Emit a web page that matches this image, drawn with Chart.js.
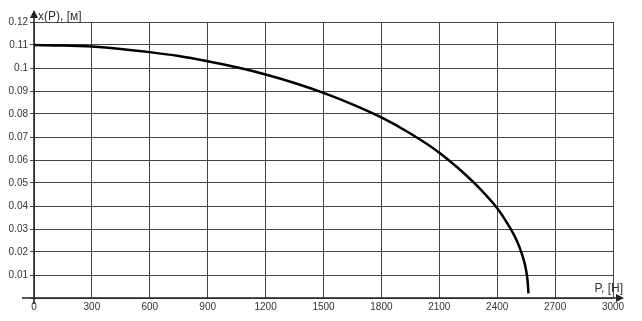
<!DOCTYPE html>
<html>
<head>
<meta charset="utf-8">
<script src="https://cdn.jsdelivr.net/npm/chart.js@4"></script>
<style>
  body { margin: 0; background: #fff; }
  #wrap { width: 642px; height: 321px; }
</style>
</head>
<body>
<div id="wrap"><canvas id="plot"></canvas></div>
<script>
// force P, [H] and deflection x(P), [m]
const forceP = [0, 150, 300, 450, 600, 750, 900, 1050, 1200, 1350, 1500, 1650, 1800, 1950, 2100, 2200, 2300, 2400, 2450, 2500, 2530, 2550, 2558, 2562];
const deflX = [0.110, 0.1098, 0.1093, 0.1083, 0.1069, 0.1052, 0.1029, 0.1003, 0.0972, 0.0935, 0.0892, 0.0842, 0.0785, 0.0715, 0.0632, 0.0563, 0.0484, 0.0390, 0.0328, 0.0252, 0.0186, 0.0120, 0.0070, 0.0020];

const xTitle = 'P, [H]';
const yTitle = 'x(P), [м]';
const font = 'Liberation Sans, Arial, sans-serif';

const points = forceP.map((p, i) => ({ x: p, y: deflX[i] }));

// axis lines with arrows and the axis captions
const arrows = {
    id: 'arrows',
    afterDraw(chart) {
        const ctx = chart.ctx;
        const a = chart.chartArea;
        ctx.save();
        ctx.strokeStyle = '#222';
        ctx.fillStyle = '#222';
        ctx.lineWidth = 1.5;
        ctx.beginPath();
        ctx.moveTo(a.left, a.bottom + 6);
        ctx.lineTo(a.left, a.top - 10);
        ctx.moveTo(a.left - 12, a.bottom);
        ctx.lineTo(a.right + 9, a.bottom);
        ctx.stroke();
        ctx.beginPath();
        ctx.moveTo(a.left, a.top - 12);
        ctx.lineTo(a.left - 4, a.top - 4);
        ctx.lineTo(a.left + 4, a.top - 4);
        ctx.closePath();
        ctx.fill();
        ctx.beginPath();
        ctx.moveTo(a.right + 11, a.bottom);
        ctx.lineTo(a.right + 3, a.bottom - 4);
        ctx.lineTo(a.right + 3, a.bottom + 4);
        ctx.closePath();
        ctx.fill();
        ctx.font = '12px ' + font;
        ctx.fillStyle = '#333';
        ctx.textBaseline = 'alphabetic';
        ctx.textAlign = 'left';
        ctx.fillText(yTitle, a.left + 4, a.top - 2);
        ctx.textAlign = 'right';
        ctx.fillText(xTitle, a.right + 10, a.bottom - 6);
        ctx.restore();
    }
};

new Chart(document.getElementById('plot'), {
    type: 'scatter',
    data: {
        datasets: [{
            data: points,
            showLine: true,
            borderColor: '#000',
            borderWidth: 2.5,
            pointRadius: 0,
            cubicInterpolationMode: 'monotone',
            fill: false
        }]
    },
    options: {
        responsive: true,
        maintainAspectRatio: false,
        animation: false,
        layout: { padding: { top: 22, right: 29, bottom: 0, left: 0 } },
        plugins: { legend: { display: false }, tooltip: { enabled: false } },
        scales: {
            x: {
                type: 'linear',
                min: 0,
                max: 3000,
                afterFit(s) { s.height = 23; },
                ticks: {
                    stepSize: 300,
                    maxRotation: 0,
                    color: '#333',
                    font: { family: font, size: 10 },
                    padding: 3,
                    callback: v => String(v)
                },
                grid: { color: '#444', lineWidth: 1, drawTicks: false },
                border: { display: false }
            },
            y: {
                min: 0,
                max: 0.12,
                afterFit(s) { s.width = 34; },
                ticks: {
                    stepSize: 0.01,
                    color: '#333',
                    font: { family: font, size: 10 },
                    padding: 2,
                    callback: v => (Math.abs(v) < 1e-9 ? '' : String(+v.toFixed(2)))
                },
                grid: { color: '#444', lineWidth: 1, tickLength: 4 },
                border: { display: false }
            }
        }
    },
    plugins: [arrows]
});
</script>
</body>
</html>
